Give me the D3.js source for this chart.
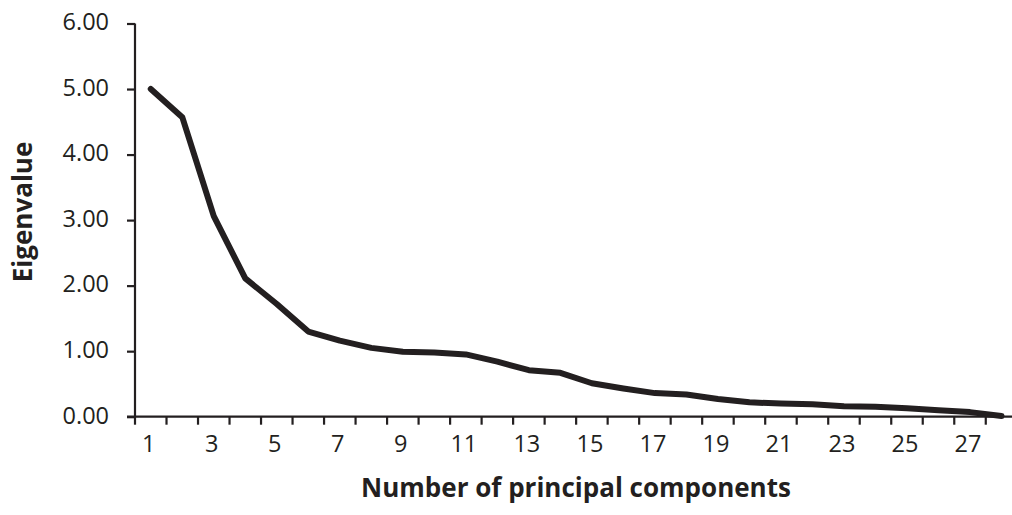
<!DOCTYPE html>
<html>
<head>
<meta charset="utf-8">
<script src="https://cdn.jsdelivr.net/npm/d3@7"></script>
<style>
  body { margin: 0; background: #fff; }
  svg { display: block; }
  text { font-family: "Open Sans", sans-serif; fill: #231f20; }
</style>
</head>
<body>
<div id="vis"></div>
<script>
// scree plot values
var components = d3.range(1, 29);
var eigenvalues = [5.00, 4.57, 3.06, 2.11, 1.72, 1.30, 1.16, 1.05, 0.99, 0.98,
                   0.95, 0.84, 0.71, 0.67, 0.51, 0.43, 0.36, 0.34, 0.27, 0.22,
                   0.20, 0.19, 0.16, 0.15, 0.13, 0.10, 0.07, 0.01];
var yTicks = [0, 1, 2, 3, 4, 5, 6];

var W = 1012, H = 515;
var margin = {top: 23.5, left: 135, bottom: 98.3};
var bandW = 31.51;

var svg = d3.select("#vis")
    .append("svg")
    .attr("width", W)
    .attr("height", H);

var x = d3.scaleBand()
    .domain(components)
    .range([margin.left, margin.left + bandW * components.length]);

var y = d3.scaleLinear()
    .domain([0, 6])
    .range([H - margin.bottom, margin.top]);

var ink = "#231f20";

////////// y axis //////////
var yAxis = svg.append("g")
    .attr("transform", "translate(" + margin.left + ",0)")
    .call(d3.axisLeft(y).tickValues(yTicks).tickSize(8).tickPadding(18)
      .tickFormat(d3.format(".2f")));
yAxis.select(".domain").attr("d", "M0," + y(6) + "V" + y(0));
yAxis.selectAll("line, path").attr("stroke", ink).attr("stroke-width", 2.2);
yAxis.selectAll("text")
    .attr("font-size", "23.5px")
    .attr("font-family", "Open Sans, sans-serif")
    .attr("fill", ink)
    .attr("dy", "0.27em");

////////// x axis //////////
var boundaries = components.map(function(d) { return x(d); });
var xAxis = svg.append("g")
    .attr("transform", "translate(0," + y(0) + ")");
xAxis.append("line")
    .attr("x1", margin.left - 8).attr("x2", W)
    .attr("stroke", ink).attr("stroke-width", 2.2);
xAxis.selectAll(".tick")
    .data(boundaries)
    .enter().append("line")
    .attr("x1", function(d) { return d; })
    .attr("x2", function(d) { return d; })
    .attr("y1", 0).attr("y2", 8)
    .attr("stroke", ink).attr("stroke-width", 2.2);
xAxis.selectAll(".lab")
    .data(components.filter(function(d) { return d % 2 == 1; }))
    .enter().append("text")
    .attr("x", function(d) { return x(d) + x.bandwidth() / 2 - 2; })
    .attr("y", 35.5)
    .attr("text-anchor", "middle")
    .attr("font-size", "23.5px")
    .text(function(d) { return d; });

////////// titles //////////
svg.append("text")
    .attr("x", 576)
    .attr("y", 497)
    .attr("text-anchor", "middle")
    .attr("font-size", "26px")
    .attr("font-weight", "bold")
    .text("Number of principal components");

svg.append("text")
    .attr("transform", "translate(32,212) rotate(-90)")
    .attr("text-anchor", "middle")
    .attr("font-size", "26px")
    .attr("font-weight", "bold")
    .text("Eigenvalue");

////////// line //////////
var line = d3.line()
    .x(function(d, i) { return x(components[i]) + x.bandwidth() / 2; })
    .y(function(d) { return y(d); });

svg.append("path")
    .datum(eigenvalues)
    .attr("d", line)
    .attr("fill", "none")
    .attr("stroke", ink)
    .attr("stroke-width", 6)
    .attr("stroke-linejoin", "round")
    .attr("stroke-linecap", "round");
</script>
</body>
</html>
